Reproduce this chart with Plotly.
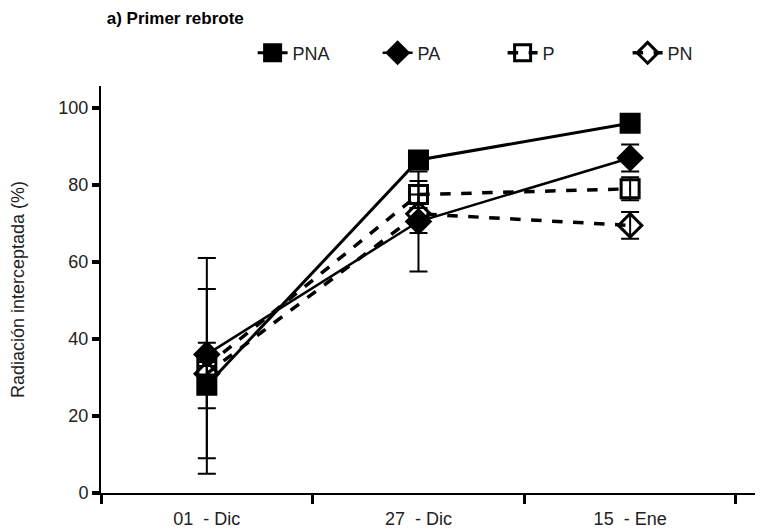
import plotly.graph_objects as go

# Data
fechas = ['01 - Dic', '27 - Dic', '15 - Ene']
etiquetas = ['01\u00a0\u00a0- Dic', '27\u00a0\u00a0- Dic', '15\u00a0\u00a0- Ene']

pna = [28, 86.5, 96]
pna_err = [6, 1.5, 1]
pa = [36, 70.5, 87]
pa_err = [3, 13, 3.5]
p = [33, 77.5, 79]
p_err = [28, 3.5, 3]
pn = [31, 72.5, 69.5]
pn_err = [22, 5, 3.5]

series = [
    ('PNA', pna, pna_err, 'square', 'solid', 3),
    ('PA', pa, pa_err, 'diamond', 'solid', 2.5),
    ('P', p, p_err, 'square-open', 'dash', 3.5),
    ('PN', pn, pn_err, 'diamond-open', 'dash', 3.5),
]

fig = go.Figure()

for nombre, vals, errs, simbolo, estilo, ancho in series:
    fig.add_trace(go.Scatter(
        x = fechas, y = vals, name = nombre,
        mode = 'lines+markers',
        line = dict(color = 'black', width = ancho, dash = estilo),
        marker = dict(symbol = simbolo, size = 18, color = 'black',
                      line = dict(color = 'black', width = 3)),
        error_y = dict(type = 'data', array = errs, visible = True,
                       color = 'black', thickness = 2, width = 9)))

fig.update_xaxes(
    type = 'category', automargin = False,
    tickmode = 'array', tickvals = fechas, ticktext = etiquetas,
    tickson = 'boundaries',
    range = [-0.5, 2.59],
    showline = True, linecolor = 'black', linewidth = 2,
    ticks = 'outside', ticklen = 9, tickwidth = 3, tickcolor = 'black',
    ticklabelstandoff = 8,
    showgrid = False, zeroline = False,
    tickfont = dict(size = 18, color = '#222'))

fig.update_yaxes(
    range = [0, 105.7], automargin = False,
    tickvals = [0, 20, 40, 60, 80, 100],
    showline = True, linecolor = 'black', linewidth = 2,
    ticks = 'outside', ticklen = 7, tickwidth = 4, tickcolor = 'black',
    showgrid = False, zeroline = False,
    title_text = 'Radiación interceptada (%)', title_standoff = 36,
    title_font = dict(size = 18, color = '#222'),
    tickfont = dict(size = 18, color = '#222'))

# page body adds an 8px offset, so margins are shifted by that amount
fig.update_layout(
    width = 784, height = 531,
    paper_bgcolor = 'white', plot_bgcolor = 'white',
    font = dict(family = 'Liberation Sans, Arial, sans-serif', color = '#222'),
    margin = dict(l = 93, r = 37, t = 78, b = 46),
    title = dict(text = '<b>a) Primer rebrote</b>', x = 0.126, xanchor = 'left',
                 y = 0.981, yanchor = 'middle', font = dict(size = 17, color = 'black')),
    legend = dict(orientation = 'h', xref = 'container', yref = 'container',
                  x = 0.312, xanchor = 'left', y = 0.915, yanchor = 'middle',
                  font = dict(size = 18, color = '#222'),
                  entrywidth = 80, bgcolor = 'rgba(0,0,0,0)'),
)

fig.write_html("out.html")
